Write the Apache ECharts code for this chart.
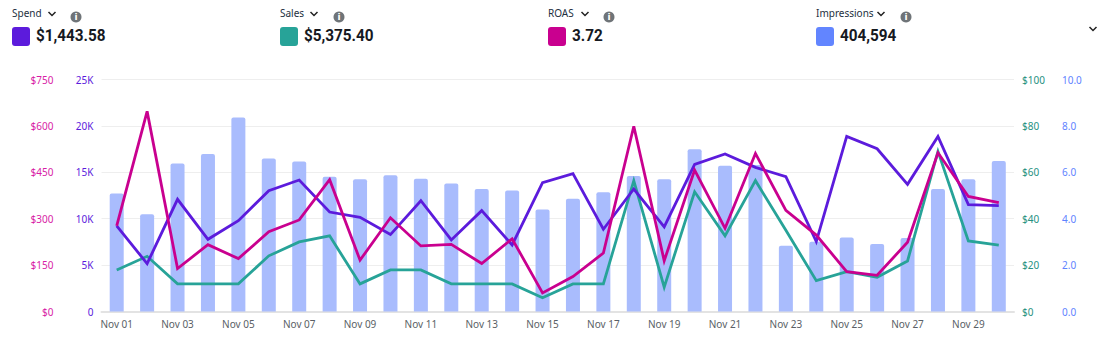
<!DOCTYPE html>
<html><head><meta charset="utf-8">
<script src="https://cdn.jsdelivr.net/npm/echarts@6/dist/echarts.min.js"></script>
<style>html,body{margin:0;padding:0;background:#fff}#c{width:1111px;height:351px}</style>
</head><body><div id="c"></div>
<script>
const days = ["Nov 01","Nov 02","Nov 03","Nov 04","Nov 05","Nov 06","Nov 07","Nov 08","Nov 09","Nov 10","Nov 11","Nov 12","Nov 13","Nov 14","Nov 15","Nov 16","Nov 17","Nov 18","Nov 19","Nov 20","Nov 21","Nov 22","Nov 23","Nov 24","Nov 25","Nov 26","Nov 27","Nov 28","Nov 29","Nov 30"];
const impressionsBars = [5.09,4.19,6.38,6.79,8.36,6.60,6.47,5.81,5.70,5.87,5.72,5.52,5.28,5.22,4.40,4.86,5.14,5.84,5.70,6.99,6.28,6.31,2.83,3.01,3.19,2.91,3.17,5.28,5.70,6.49];
const spendLine = [9.22,5.16,12.09,7.78,9.79,13.02,14.17,10.72,10.15,8.29,11.94,7.71,10.87,7.17,13.88,14.85,8.86,13.2,9.11,15.85,16.97,15.53,14.53,7.53,18.87,17.54,13.70,18.87,11.51,11.41];
const roasLine = [277,647,139,216,171,258,296,426,166,303,212,217,155,235,60,113,189,599,164,457,269,511,327,247,129,117,224,513,372,352];
const salesLine = [17.9,23.8,11.9,11.9,11.9,24,30,32.6,11.9,17.9,17.9,11.9,11.9,11.9,5.9,11.9,11.9,56.4,10.5,51.6,32.6,56.4,35,13.3,17.2,14.8,21.8,69,30.4,28.6];
const headerNames = ["Spend","Sales","ROAS","Impressions"];
const headerValues = ["$1,443.58","$5,375.40","3.72","404,594"];
const headerColors = ["#5c1bdc","#27a398","#c9008f","#6285ff"];
const headerX = [12,280,548,816];
const chevronX = [52,314,585,881];
const infoX = [76,339,609,906];

const uiFont = '"Noto Sans", sans-serif';
const chevron = (x, y) => ({type:'polyline', shape:{points:[[x-3.5,y-2],[x,y+1.5],[x+3.5,y-2]]}, style:{stroke:'#222', lineWidth:1.5, fill:null}});
const graphics = [];
headerNames.forEach((n,i)=>{
  graphics.push({type:'text', x:headerX[i], y:8, style:{text:n, font:'10px '+uiFont, fill:'#232f3e'}});
  graphics.push(chevron(chevronX[i],14));
  graphics.push({type:'circle', shape:{cx:infoX[i], cy:17, r:5.5}, style:{fill:'#6f7478'}});
  graphics.push({type:'text', x:infoX[i], y:17, style:{text:'i', font:'bold 9px "DejaVu Sans"', fill:'#fff', align:'center', verticalAlign:'middle'}});
  graphics.push({type:'rect', x:headerX[i], y:27, shape:{width:18,height:19,r:3}, style:{fill:headerColors[i]}});
  graphics.push({type:'text', x:headerX[i]+24, y:27, scaleX:0.9, style:{text:headerValues[i], font:'bold 17px Roboto', fill:'#16191f'}});
});
graphics.push(chevron(1093,29));

const yAxis = (max, interval, color, position, offset, fmt, showSplit) => ({
  type:'value', min:0, max, interval, position, offset,
  axisLine:{show:false}, axisTick:{show:false},
  axisLabel:{color, fontSize:10, fontFamily:uiFont, margin:8, formatter:fmt},
  splitLine:{show:showSplit, lineStyle:{color:'#eeeeee', width:1}}
});
const line = (name, data, idx, color) => ({
  name, type:'line', data, yAxisIndex:idx, symbol:'none', smooth:false, z:5,
  lineStyle:{color, width:2.8, join:'miter'}
});
const chart = echarts.init(document.getElementById('c'), null, {renderer:'svg'});
chart.setOption({
  animation:false,
  grid:{left:101.5, right:97, top:79.5, bottom:39.5},
  graphic:graphics,
  xAxis:{type:'category', data:days, boundaryGap:true,
    axisLine:{lineStyle:{color:'#e3e3e3', width:2}}, axisTick:{show:false},
    axisLabel:{interval:1, color:'#5a5f66', fontSize:10, fontFamily:uiFont, margin:7}},
  yAxis:[
    yAxis(25, 5, '#5c1bdc', 'left', 0, v=>v===0?'0':v+'K', true),
    yAxis(750, 150, '#d81ea6', 'left', 40, v=>'$'+v, false),
    yAxis(100, 20, '#27917f', 'right', 0, v=>'$'+v, false),
    yAxis(10, 2, '#5f83ff', 'right', 40, v=>v.toFixed(1), false)
  ],
  series:[
    {name:'Impressions', type:'bar', data:impressionsBars, yAxisIndex:3, barWidth:14, z:2,
      itemStyle:{color:'#a9bcfd', borderRadius:[2,2,0,0]}},
    line('Sales', salesLine, 2, '#27a398'),
    line('Spend', spendLine, 0, '#5c1bdc'),
    line('ROAS', roasLine, 1, '#c9008f')
  ]
});
</script></body></html>
